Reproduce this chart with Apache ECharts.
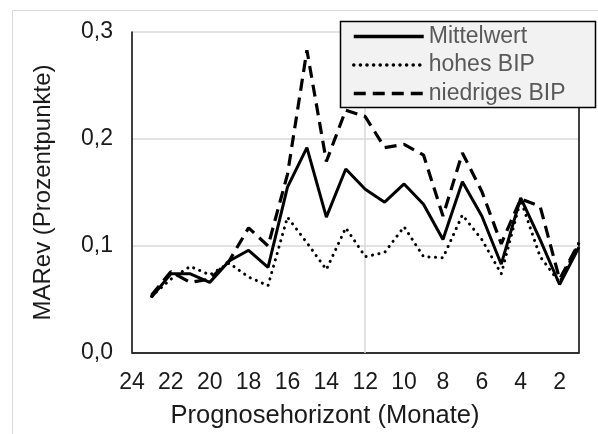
<!DOCTYPE html>
<html><head><meta charset="utf-8">
<script src="https://cdn.jsdelivr.net/npm/echarts@6/dist/echarts.min.js"></script>
<style>html,body{margin:0;padding:0;background:#fff}#c{width:598px;height:434px}</style>
</head><body><div id="c"></div>
<script>
const months = ['24','23','22','21','20','19','18','17','16','15','14','13','12','11','10','9','8','7','6','5','4','3','2','1'];
const mittelwert = [null,0.052,0.074,0.074,0.066,0.086,0.096,0.080,0.155,0.192,0.127,0.172,0.153,0.141,0.158,0.139,0.106,0.160,0.128,0.083,0.145,0.106,0.064,0.099];
const hohesBIP = [null,0.053,0.069,0.081,0.073,0.084,0.071,0.063,0.127,0.103,0.078,0.117,0.090,0.094,0.118,0.090,0.089,0.129,0.106,0.074,0.143,0.090,0.066,0.103];
const niedrigesBIP = [null,0.054,0.076,0.066,0.069,0.086,0.117,0.100,0.167,0.283,0.179,0.227,0.221,0.192,0.195,0.185,0.128,0.187,0.151,0.102,0.144,0.137,0.069,0.103];
const seriesNames = ['Mittelwert','hohes BIP','niedriges BIP'];

const font = '"Liberation Sans", Arial, sans-serif';
const chart = echarts.init(document.getElementById('c'), null, {renderer:'canvas'});
chart.setOption({
  animation:false,
  graphic:[
    {type:'polyline', shape:{points:[[12.5,434],[12.5,10.5],[598,10.5]]}, style:{stroke:'#d9d9d9', lineWidth:1, fill:null}, z:-1},
    {type:'rect', shape:{x:340.5, y:21.5, width:255, height:86}, style:{fill:'#f2f2f2', stroke:'#000', lineWidth:1.5}, z:20}
  ],
  grid:{left:132, right:19, top:32, bottom:80},
  legend:{
    data:seriesNames, orient:'vertical', left:340, top:22, z:30,
    itemWidth:70, itemHeight:20, itemGap:5.5,
    padding:[3,10,2,12],
    itemStyle:{color:'rgba(0,0,0,0)', borderWidth:0, opacity:0},
    lineStyle:{width:3.5},
    textStyle:{fontFamily:font, fontSize:23, color:'#595959'}
  },
  xAxis:[{
    type:'category', data:months, boundaryGap:false,
    axisLine:{lineStyle:{color:'#bfbfbf', width:1.5}},
    axisTick:{show:false},
    axisLabel:{interval:1, fontFamily:font, fontSize:23, color:'#1a1a1a', margin:18},
    splitLine:{show:false},
    name:'Prognosehorizont (Monate)', nameLocation:'middle', nameGap:50,
    nameTextStyle:{fontFamily:font, fontSize:25.5, color:'#1a1a1a', padding:[0,61,0,0]}
  },{
    type:'category', data:months, boundaryGap:false, position:'top',
    axisLine:{lineStyle:{color:'#000', width:1.5}}, axisTick:{show:false}, axisLabel:{show:false}
  }],
  yAxis:[{
    type:'value', min:0, max:0.3, interval:0.1,
    axisLine:{show:true, lineStyle:{color:'#000', width:1.5}},
    axisTick:{show:false},
    axisLabel:{fontFamily:font, fontSize:23, color:'#1a1a1a', margin:19,
      formatter:v=>v.toFixed(1).replace('.',',')},
    splitLine:{lineStyle:{color:'#d9d9d9', width:1.5}},
    name:'MARev (Prozentpunkte)', nameLocation:'middle', nameGap:77,
    nameTextStyle:{fontFamily:font, fontSize:24, color:'#1a1a1a'}
  },{
    type:'value', min:0, max:0.3, interval:0.1, position:'right',
    axisLine:{show:true, lineStyle:{color:'#000', width:1.5}},
    axisTick:{show:false}, axisLabel:{show:false}, splitLine:{show:false}
  }],
  series:[
    {name:seriesNames[0], type:'line', data:mittelwert, symbol:'none', z:5,
     lineStyle:{color:'#000', width:3, type:'solid'}, itemStyle:{color:'#000'},
     markLine:{silent:true, symbol:'none', label:{show:false},
       lineStyle:{color:'#d9d9d9', width:1.5, type:'solid'}, data:[{xAxis:'12'}], z:1}},
    {name:seriesNames[1], type:'line', data:hohesBIP, symbol:'none', z:4,
     lineStyle:{color:'#000', width:3, type:[0.1,6.5], cap:'round'}, itemStyle:{color:'#000'}},
    {name:seriesNames[2], type:'line', data:niedrigesBIP, symbol:'none', z:3,
     lineStyle:{color:'#000', width:3.2, type:[12,7]}, itemStyle:{color:'#000'}}
  ]
});
</script></body></html>
